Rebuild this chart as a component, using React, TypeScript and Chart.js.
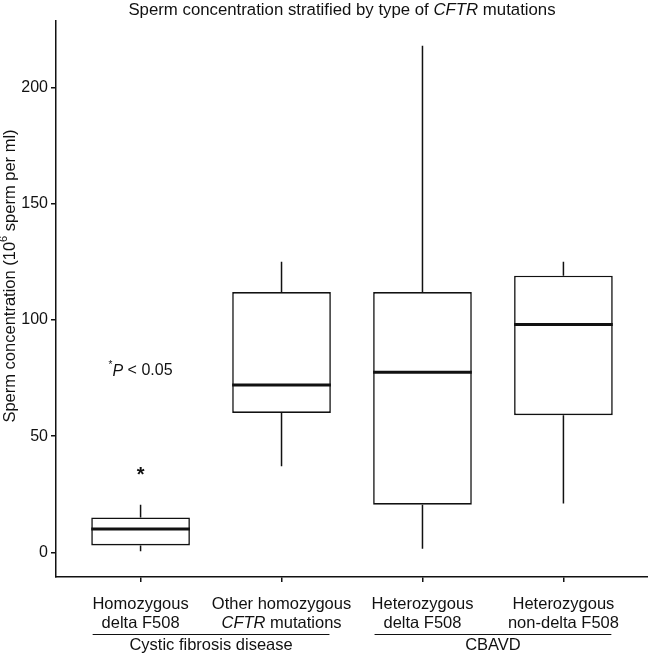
import React, { useEffect, useRef } from 'react';
import { Chart, registerables } from 'chart.js';
Chart.register(...registerables);

// ---- data ----
const categoryLines = [
  ['Homozygous', 'delta F508'],
  ['Other homozygous', 'CFTR mutations'],
  ['Heterozygous', 'delta F508'],
  ['Heterozygous', 'non-delta F508'],
];
const whiskerLow = [0.5, 37, 1.5, 21];
const q1 = [3, 60, 20.5, 59];
const median = [10, 72, 77.5, 98];
const q3 = [15, 112, 112, 119];
const whiskerHigh = [20.5, 125, 218, 125];
const yTicks = [0, 50, 100, 150, 200];
const groupLabels = ['Cystic fibrosis disease', 'CBAVD'];
const groupStart = [1, 3];
const groupEnd = [2, 4];
const italicWords = ['CFTR'];
const titleText = 'Sperm concentration stratified by type of CFTR mutations';
const sigCategory = 1;
const sigMarkValue = 35;
const sigNoteValue = 78;

const FONT = "'Liberation Sans', Arial, sans-serif";
const INK = '#111';

type Seg = { t: string; italic?: boolean; sup?: boolean; bold?: boolean };

function segsFromText(text: string): Seg[] {
  const words = text.split(' ');
  const out: Seg[] = [];
  words.forEach((w, i) => {
    if (i > 0) out.push({ t: ' ' });
    out.push({ t: w, italic: italicWords.includes(w) });
  });
  return out;
}

function fontFor(s: Seg, size: number) {
  const sz = s.sup ? Math.round(size * 0.65) : size;
  return `${s.italic ? 'italic ' : ''}${s.bold ? 'bold ' : ''}${sz}px ${FONT}`;
}

function drawRich(ctx: CanvasRenderingContext2D, segs: Seg[], x: number, y: number, size: number) {
  let total = 0;
  const widths = segs.map((s) => {
    ctx.font = fontFor(s, size);
    const w = ctx.measureText(s.t).width;
    total += w;
    return w;
  });
  let cx = x - total / 2;
  ctx.textAlign = 'left';
  ctx.textBaseline = 'middle';
  ctx.fillStyle = INK;
  segs.forEach((s, i) => {
    ctx.font = fontFor(s, size);
    ctx.fillText(s.t, cx, s.sup ? y - size * 0.35 : y);
    cx += widths[i];
  });
}

const boxPlugin = {
  id: 'boxExtras',
  afterDatasetsDraw(chart: any) {
    const ctx: CanvasRenderingContext2D = chart.ctx;
    const xs = chart.scales.x;
    const ys = chart.scales.y;
    ctx.save();
    ctx.strokeStyle = INK;
    for (let i = 0; i < median.length; i++) {
      const cx = xs.getPixelForValue(i + 1);
      const l = xs.getPixelForValue(i + 1 - 0.35);
      const r = xs.getPixelForValue(i + 1 + 0.35);
      ctx.lineWidth = 1.5;
      ctx.beginPath();
      ctx.moveTo(cx, ys.getPixelForValue(q3[i]));
      ctx.lineTo(cx, ys.getPixelForValue(whiskerHigh[i]));
      ctx.moveTo(cx, ys.getPixelForValue(q1[i]));
      ctx.lineTo(cx, ys.getPixelForValue(whiskerLow[i]));
      ctx.stroke();
      ctx.lineWidth = 3;
      ctx.beginPath();
      const my = ys.getPixelForValue(median[i]);
      ctx.moveTo(l, my);
      ctx.lineTo(r, my);
      ctx.stroke();
    }
    ctx.restore();
  },
  afterDraw(chart: any) {
    const ctx: CanvasRenderingContext2D = chart.ctx;
    const xs = chart.scales.x;
    const ys = chart.scales.y;
    const area = chart.chartArea;
    ctx.save();
    // title
    drawRich(ctx, segsFromText(titleText), 342, 10, 16.8);
    // y tick labels
    ctx.font = `16px ${FONT}`;
    ctx.fillStyle = INK;
    ctx.textAlign = 'right';
    ctx.textBaseline = 'middle';
    yTicks.forEach((v) => ctx.fillText(String(v), area.left - 8, ys.getPixelForValue(v)));
    // y title
    ctx.save();
    ctx.translate(10, 276);
    ctx.rotate(-Math.PI / 2);
    drawRich(ctx, [
      { t: 'Sperm concentration (10' },
      { t: '6', sup: true },
      { t: ' sperm per ml)' },
    ], 0, 0, 16.5);
    ctx.restore();
    // x labels
    categoryLines.forEach((lines, i) => {
      const cx = xs.getPixelForValue(i + 1);
      lines.forEach((ln, j) => drawRich(ctx, segsFromText(ln), cx, area.bottom + 27 + j * 19, 16.5));
    });
    // group brackets
    ctx.strokeStyle = INK;
    ctx.lineWidth = 1;
    groupLabels.forEach((g, k) => {
      const l = xs.getPixelForValue(groupStart[k] - 0.34);
      const r = xs.getPixelForValue(groupEnd[k] + 0.34);
      const yl = area.bottom + 57.5;
      ctx.beginPath();
      ctx.moveTo(l, yl);
      ctx.lineTo(r, yl);
      ctx.stroke();
      drawRich(ctx, [{ t: g }], (l + r) / 2, area.bottom + 68.5, 16.5);
    });
    // significance
    const sx = xs.getPixelForValue(sigCategory);
    drawRich(ctx, [{ t: '*', bold: true }], sx, ys.getPixelForValue(sigMarkValue) + 4, 20);
    drawRich(ctx, [{ t: '*', sup: true }, { t: 'P', italic: true }, { t: ' < 0.05' }], sx, ys.getPixelForValue(sigNoteValue), 16);
    ctx.restore();
  },
};

export default function App() {
  const ref = useRef<HTMLCanvasElement | null>(null);
  useEffect(() => {
    if (!ref.current) return;
    const chart = new Chart(ref.current, {
      type: 'bar',
      data: {
        datasets: [
          {
            data: q1.map((v, i) => ({ x: i + 1, y: [v, q3[i]] })) as any,
            backgroundColor: '#ffffff',
            borderColor: INK,
            borderWidth: 1.6,
            borderSkipped: false,
            barPercentage: 0.7,
            categoryPercentage: 1,
          },
        ],
      },
      options: {
        responsive: false,
        animation: false,
        events: [],
        layout: { padding: { top: 21, left: 0, right: 0, bottom: 0 } },
        plugins: { legend: { display: false }, tooltip: { enabled: false }, title: { display: false } },
        scales: {
          x: {
            type: 'linear',
            min: 0.4,
            max: 4.6,
            offset: false,
            afterBuildTicks: (s: any) => { s.ticks = [1, 2, 3, 4].map((v) => ({ value: v })); },
            afterFit: (s: any) => { s.height = 77; },
            ticks: { display: false },
            grid: { display: true, offset: false, drawOnChartArea: false, drawTicks: true, tickLength: 5, color: INK, lineWidth: 1.5 },
            border: { display: true, color: INK, width: 1.5 },
          },
          y: {
            type: 'linear',
            min: -10.6,
            max: 228.6,
            afterBuildTicks: (s: any) => { s.ticks = yTicks.map((v) => ({ value: v })); },
            afterFit: (s: any) => { s.width = 56; },
            ticks: { display: false },
            grid: { display: true, drawOnChartArea: false, drawTicks: true, tickLength: 5, color: INK, lineWidth: 1.5 },
            border: { display: true, color: INK, width: 1.5 },
          },
        },
      },
      plugins: [boxPlugin],
    });
    return () => chart.destroy();
  }, []);
  return (
    <div style={{ position: 'absolute', left: 0, top: 0, width: 648, height: 654, background: '#fff' }}>
      <canvas ref={ref} width={648} height={654} style={{ display: 'block' }} />
    </div>
  );
}
